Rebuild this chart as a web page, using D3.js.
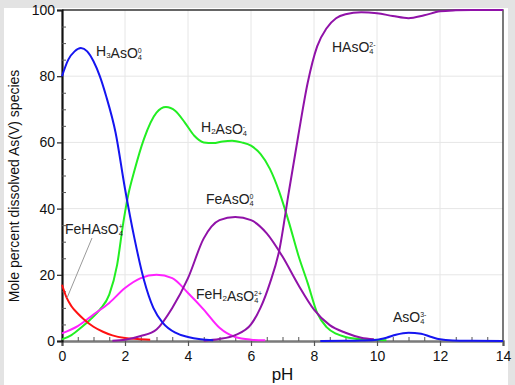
<!DOCTYPE html>
<html>
<head>
<meta charset="utf-8">
<script src="https://cdn.jsdelivr.net/npm/d3@7"></script>
<style>
  body { margin: 0; background: #fff; }
  svg { font-family: "Liberation Sans", Arial, sans-serif; }
</style>
</head>
<body>
<div id="chart"></div>
<script>
// pH tick values and % axis ticks
var xTicks = [0, 2, 4, 6, 8, 10, 12, 14];
var yTicks = [0, 20, 40, 60, 80, 100];

// series (pH, mole %)
var h3ph  = [0, 0.2, 0.4, 0.6, 0.8, 1.0, 1.2, 1.4, 1.7, 2.0, 2.3, 2.6, 2.9, 3.2, 3.6, 4.0, 4.4, 4.8];
var h3val = [80, 85, 87.5, 88.5, 87.5, 84.5, 80, 74, 63, 46, 31, 18.5, 10, 5.5, 2.5, 1.2, 0.5, 0.2];

var h2ph  = [0, 0.3, 0.6, 0.9, 1.2, 1.5, 1.75, 1.95, 2.1, 2.3, 2.6, 3.0, 3.3, 3.6, 3.9, 4.2, 4.5, 4.8, 5.1, 5.4, 5.7, 6.0, 6.3, 6.6, 6.9, 7.2, 7.5, 7.8, 8.1, 8.4, 8.7, 9.0, 9.5, 10.3];
var h2val = [0.5, 1.8, 4, 6.5, 9.5, 14, 23, 36, 44, 51.5, 61, 69, 70.7, 69.5, 66, 62, 60, 59.8, 60.3, 60.5, 60, 59, 56.5, 52, 45, 36, 26, 17.5, 8.5, 4.2, 2.2, 1.2, 0.5, 0.2];

var feh2ph  = [0, 0.5, 1.0, 1.5, 2.0, 2.5, 3.0, 3.5, 4.0, 4.5, 5.0, 5.5, 6.0, 6.45];
var feh2val = [2.3, 4.5, 8, 11.5, 16, 19, 20, 19, 14.5, 9.5, 4, 1.2, 0.4, 0.2];

var fehph  = [0, 0.15, 0.3, 0.5, 0.7, 1.0, 1.3, 1.6, 2.0, 2.4, 2.8];
var fehval = [17, 13, 10.5, 8.3, 6.5, 4.3, 2.8, 1.7, 0.9, 0.6, 0.4];

var feph  = [1.6, 2.0, 2.5, 3.0, 3.5, 4.0, 4.5, 5.0, 5.5, 6.0, 6.5, 7.0, 7.5, 8.0, 8.5, 9.0, 9.5, 9.9];
var feval = [0.1, 0.4, 1.5, 3.5, 10, 19, 31, 36.5, 37.5, 36.5, 32.5, 25.5, 17, 9.5, 4.8, 2.5, 1, 0.5];

var hph  = [4.5, 5.0, 5.5, 6.0, 6.3, 6.6, 6.9, 7.2, 7.5, 7.8, 8.1, 8.4, 8.7, 9.0, 9.5, 10.0, 10.5, 11.0, 11.5, 12.0, 12.5, 13, 14];
var hval = [0.1, 0.6, 1.8, 5, 10, 17.5, 27.5, 45, 62, 78, 89, 94.5, 97.5, 98.7, 99.3, 99, 98.2, 97.5, 98.4, 99.6, 99.9, 100, 100];

var asph  = [8.2, 9.0, 9.5, 10, 10.3, 10.6, 11, 11.4, 11.7, 12, 12.4, 13, 14];
var asval = [0, 0.05, 0.15, 0.4, 1, 1.9, 2.5, 2.2, 1.3, 0.5, 0.15, 0.05, 0];

var w = 515, h = 385;
var margin = {top: 10, right: 12, bottom: 44, left: 62};

var svg = d3.select("#chart").append("svg")
    .attr("width", w)
    .attr("height", h);

// grey frame round the white panel
svg.append("rect").attr("width", w).attr("height", h).attr("fill", "#e3e3e3");
svg.append("rect").attr("x", 4).attr("y", 8).attr("width", 504).attr("height", h - 8).attr("fill", "#fff");

var xScale = d3.scaleLinear().domain([0, 14]).range([margin.left, w - margin.right]);
var yScale = d3.scaleLinear().domain([0, 100]).range([h - margin.bottom, margin.top]);

// grid
svg.selectAll(".vgrid")
    .data(xTicks.slice(1, -1))
    .enter().append("line")
    .attr("x1", function(d) { return xScale(d); })
    .attr("x2", function(d) { return xScale(d); })
    .attr("y1", yScale(0)).attr("y2", yScale(100))
    .attr("stroke", "#e6e6e6").attr("stroke-width", 1);
svg.selectAll(".hgrid")
    .data(yTicks.slice(1, -1))
    .enter().append("line")
    .attr("y1", function(d) { return yScale(d); })
    .attr("y2", function(d) { return yScale(d); })
    .attr("x1", xScale(0)).attr("x2", xScale(14))
    .attr("stroke", "#e6e6e6").attr("stroke-width", 1);

// top and right border
svg.append("path")
    .attr("d", "M" + xScale(0) + "," + yScale(100) + "H" + xScale(14) + "V" + yScale(0))
    .attr("fill", "none").attr("stroke", "#333").attr("stroke-width", 1.3);

// x axis: major ticks out, minor ticks in
var xAxis = d3.axisBottom(xScale).tickValues(xTicks).tickSize(5).tickFormat(d3.format("d"));
var gx = svg.append("g")
    .attr("transform", "translate(0," + yScale(0) + ")")
    .call(xAxis);
gx.select(".domain").attr("stroke", "#7a7a7a").attr("stroke-width", 2.5);
gx.selectAll(".tick line").attr("stroke", "#555").attr("stroke-width", 1.2);
gx.selectAll(".tick text").attr("font-size", "14px").attr("fill", "#111").attr("dy", "0.85em");
svg.append("g")
    .attr("transform", "translate(0," + yScale(0) + ")")
    .call(d3.axisBottom(xScale).tickValues(d3.range(0.5, 14, 0.5).filter(function(d) { return d % 2 !== 0; })).tickSize(-4).tickFormat(""))
    .call(function(g) { g.select(".domain").remove(); g.selectAll("line").attr("stroke", "#555"); });

// y axis
var yAxis = d3.axisLeft(yScale).tickValues(yTicks).tickSize(5);
var gy = svg.append("g")
    .attr("transform", "translate(" + xScale(0) + ",0)")
    .call(yAxis);
gy.select(".domain").attr("stroke", "#111").attr("stroke-width", 2.2);
gy.selectAll(".tick line").attr("stroke", "#222").attr("stroke-width", 1.2);
gy.selectAll(".tick text").attr("font-size", "14px").attr("fill", "#111").attr("x", -7);
svg.append("g")
    .attr("transform", "translate(" + xScale(0) + ",0)")
    .call(d3.axisLeft(yScale).tickValues(d3.range(5, 100, 5).filter(function(d) { return d % 20 !== 0; })).tickSize(-4).tickFormat(""))
    .call(function(g) { g.select(".domain").remove(); g.selectAll("line").attr("stroke", "#555"); });

// curves
var line = d3.line()
    .x(function(d) { return xScale(d[0]); })
    .y(function(d) { return yScale(d[1]); })
    .curve(d3.curveMonotoneX);

function series(ph, val, color) {
    svg.append("path")
        .datum(d3.zip(ph, val))
        .attr("d", line)
        .attr("fill", "none")
        .attr("stroke", color)
        .attr("stroke-width", 2);
}
series(h2ph, h2val, "#22ee22");
series(feh2ph, feh2val, "#ff22ff");
series(fehph, fehval, "#ff1111");
series(feph, feval, "#9012a8");
series(hph, hval, "#9012a8");
series(asph, asval, "#1515f0");
series(h3ph, h3val, "#1515f0");

// species labels: plain text, subscript, or the stacked 4 + charge
function label(x, y, parts) {
    var t = svg.append("text").attr("x", x).attr("y", y)
        .attr("font-size", "14px").attr("fill", "#222");
    parts.forEach(function(p) {
        if (p.t === "n") t.append("tspan").text(p.s);
        if (p.t === "sub") {
            t.append("tspan").attr("font-size", "8px").attr("dy", 2).text(p.s);
            t.append("tspan").attr("font-size", "14px").attr("dy", -2).text("");
        }
        if (p.t === "ion") {
            t.append("tspan").attr("font-size", "7.5px").attr("dy", 2).text("4");
            t.append("tspan").attr("font-size", "7px").attr("dx", -4.2).attr("dy", -7.5).text(p.s);
        }
    });
}
label(96, 56, [{t: "n", s: "H"}, {t: "sub", s: "3"}, {t: "n", s: "AsO"}, {t: "ion", s: "0"}]);
label(201, 132, [{t: "n", s: "H"}, {t: "sub", s: "2"}, {t: "n", s: "AsO"}, {t: "ion", s: "-"}]);
label(332, 52, [{t: "n", s: "HAsO"}, {t: "ion", s: "2-"}]);
label(206, 204, [{t: "n", s: "FeAsO"}, {t: "ion", s: "0"}]);
label(65, 234, [{t: "n", s: "FeHAsO"}, {t: "ion", s: "+"}]);
label(196, 299, [{t: "n", s: "FeH"}, {t: "sub", s: "2"}, {t: "n", s: "AsO"}, {t: "ion", s: "2+"}]);
label(393, 322, [{t: "n", s: "AsO"}, {t: "ion", s: "3-"}]);

// leader line for FeHAsO4+
svg.append("line")
    .attr("x1", 92).attr("y1", 238).attr("x2", 67).attr("y2", 298)
    .attr("stroke", "#999").attr("stroke-width", 1);

// axis titles
svg.append("text")
    .attr("x", (xScale(0) + xScale(14)) / 2)
    .attr("y", 380)
    .style("text-anchor", "middle")
    .attr("font-size", "17px")
    .attr("fill", "#111")
    .text("pH");

svg.append("text")
    .attr("transform", "translate(19,186) rotate(-90)")
    .style("text-anchor", "middle")
    .attr("font-size", "14px")
    .attr("fill", "#111")
    .text("Mole percent dissolved As(V) species");
</script>
</body>
</html>
